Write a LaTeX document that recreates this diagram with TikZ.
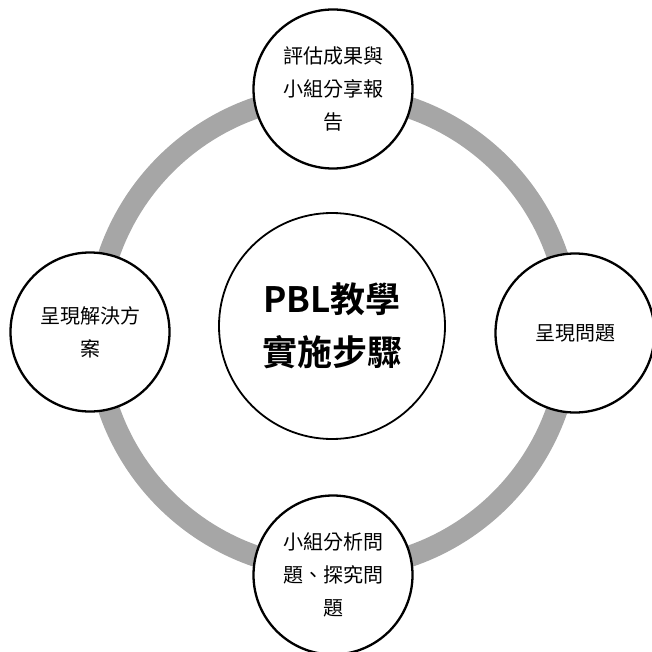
\documentclass[tikz,border=0pt]{standalone}
\usepackage{fontspec}
\setmainfont{Noto Sans CJK TC}
\newfontfamily\cjkbold{Noto Sans CJK TC Bold}
\definecolor{ringgray}{HTML}{A6A6A6}
\tikzset{
  stepcircle/.style={circle, draw=black, fill=white, line width=2.3pt, minimum size=159pt, inner sep=0pt, align=center, font=\fontsize{20}{33}\selectfont},
  hubcircle/.style={circle, draw=black, fill=white, line width=1.8pt, minimum size=226pt, inner sep=0pt, align=center, font=\cjkbold\fontsize{35}{53}\selectfont},
  ring/.style={draw=ringgray, line width=21.5pt}
}
\begin{document}
\begin{tikzpicture}[x=1pt,y=-1pt]
\useasboundingbox (0,0) rectangle (651,652);
\coordinate (o) at (333,332);
\draw[ring] (o) circle[radius=237pt];
\node[hubcircle] (hub) at (332,326) {PBL教學\\實施步驟};
\node[stepcircle] (top) at (333,89) {評估成果與\\小組分享報\\告};
\node[stepcircle] (right) at (575,333) {呈現問題};
\node[stepcircle] (bottom) at (333,575) {小組分析問\\題、探究問\\題};
\node[stepcircle] (left) at (90,332) {呈現解決方\\案};
\end{tikzpicture}
\end{document}
